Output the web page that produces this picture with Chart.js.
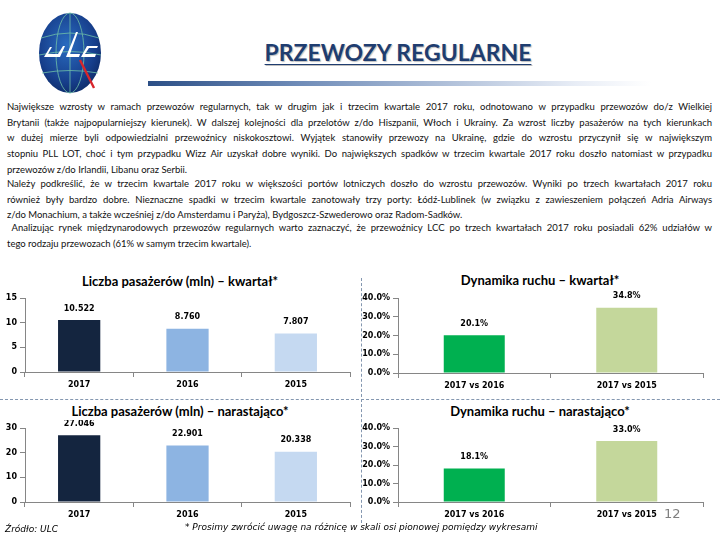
<!DOCTYPE html>
<html>
<head>
<meta charset="utf-8">
<script src="https://cdn.jsdelivr.net/npm/chart.js@4"></script>
<style>
  body { margin: 0; background: #fff; }
  #page { position: relative; width: 720px; height: 540px; overflow: hidden; font-family: Lato, "Open Sans", sans-serif; }
  .abs { position: absolute; }
  .title { left: 0; width: 796px; top: 38px; text-align: center; font: bold 23px Lato, sans-serif; color: #1f3d70;
           text-decoration: underline; text-decoration-thickness: 1px; text-underline-offset: 3px;
           text-shadow: 1px 1px 1px rgba(0,0,0,0.25); }
  .bar { left: 148px; top: 81px; width: 503px; height: 5px; background: linear-gradient(to right, #2c4f86, #6f8cb8 30%, #e8edf6 85%, #fff); }
  .para { left: 7px; width: 705px; font-size: 9.5px; color: #111; }
  .ln { height: 15.7px; line-height: 15.7px; white-space: nowrap; text-align: justify; text-align-last: justify; }
  .ln.end { text-align-last: left; }
  .ctitle { font: bold 13px Lato, sans-serif; color: #000; text-align: center; width: 360px; }
  .dash-h { left: 0; top: 399px; width: 720px; border-top: 1px dashed #8497b0; }
  .dash-v { left: 361px; top: 278px; height: 245px; border-left: 1px dashed #8497b0; }
  canvas { position: absolute; }
  .note { font: italic 9px "DejaVu Sans", sans-serif; color: #000; }
</style>
</head>
<body>
<div id="page">
  <svg class="abs" style="left:36px;top:10px" width="70" height="88" viewBox="0 0 70 88">
    <defs>
      <radialGradient id="g" cx="45%" cy="40%" r="65%">
        <stop offset="0" stop-color="#2a6cc0"/>
        <stop offset="0.7" stop-color="#173f8c"/>
        <stop offset="1" stop-color="#0d2a66"/>
      </radialGradient>
    </defs>
    <ellipse cx="34" cy="43" rx="31" ry="40" fill="url(#g)"/>
    <g fill="none" stroke="#6fc0a8" stroke-width="0.9" opacity="0.9">
      <ellipse cx="34" cy="43" rx="14" ry="40"/>
      <line x1="34" y1="3" x2="34" y2="83"/>
      <path d="M5 28 Q34 18 63 28"/>
      <path d="M3 45 Q34 38 65 45"/>
      <path d="M6 63 Q34 58 62 63"/>
    </g>
    <line x1="44" y1="50" x2="58" y2="78" stroke="#d8262c" stroke-width="2.4"/>
    <g fill="#fff">
      <path d="M8 47 L14 37 L16 37 L12 44 L22 44 L27 36 L29 36 L24 47 Z"/>
      <path d="M30 47 L40 22 L42 22 L34 44 L44 44 L43 47 Z"/>
      <path d="M45 47 L51 36 L62 36 L61 38 L53 38 L49 44 L60 44 L59 47 Z"/>
    </g>
  </svg>
  <div class="abs title">PRZEWOZY REGULARNE</div>
  <div class="abs bar"></div>

  <div class="abs para" style="top:99px">
    <div class="ln">Największe wzrosty w ramach przewozów regularnych, tak w drugim jak i trzecim kwartale 2017 roku, odnotowano w przypadku przewozów do/z Wielkiej</div>
    <div class="ln">Brytanii (także najpopularniejszy kierunek). W dalszej kolejności dla przelotów z/do Hiszpanii, Włoch i Ukrainy. Za wzrost liczby pasażerów na tych kierunkach</div>
    <div class="ln">w dużej mierze byli odpowiedzialni przewoźnicy niskokosztowi. Wyjątek stanowiły przewozy na Ukrainę, gdzie do wzrostu przyczynił się w największym</div>
    <div class="ln">stopniu PLL LOT, choć i tym przypadku Wizz Air uzyskał dobre wyniki. Do największych spadków w trzecim kwartale 2017 roku doszło natomiast w przypadku</div>
    <div class="ln end">przewozów z/do Irlandii, Libanu oraz Serbii.</div>
  </div>
  <div class="abs para" style="top:176px">
    <div class="ln">Należy podkreślić, że w trzecim kwartale 2017 roku w większości portów lotniczych doszło do wzrostu przewozów. Wyniki po trzech kwartałach 2017 roku</div>
    <div class="ln">również były bardzo dobre. Nieznaczne spadki w trzecim kwartale zanotowały trzy porty: Łódź-Lublinek (w związku z zawieszeniem połączeń Adria Airways</div>
    <div class="ln end">z/do Monachium, a także wcześniej z/do Amsterdamu i Paryża), Bydgoszcz-Szwederowo oraz Radom-Sadków.</div>
  </div>
  <div class="abs para" style="top:220px">
    <div class="ln">&nbsp;Analizując rynek międzynarodowych przewozów regularnych warto zaznaczyć, że przewoźnicy LCC po trzech kwartałach 2017 roku posiadali 62% udziałów w</div>
    <div class="ln end">tego rodzaju przewozach (61% w samym trzecim kwartale).</div>
  </div>

  <div class="abs dash-h"></div>
  <div class="abs dash-v"></div>

  <div class="abs ctitle" style="left:0;top:273px">Liczba pasażerów (mln) – kwartał*</div>
  <div class="abs ctitle" style="left:360px;top:272px">Dynamika ruchu – kwartał*</div>
  <div class="abs ctitle" style="left:0;top:403px">Liczba pasażerów (mln) – narastająco*</div>
  <div class="abs ctitle" style="left:360px;top:403px">Dynamika ruchu – narastająco*</div>

  <canvas id="c1" style="left:0;top:290px" width="360" height="105"></canvas>
  <canvas id="c2" style="left:362px;top:290px" width="358" height="105"></canvas>
  <canvas id="c3" style="left:0;top:420px" width="360" height="105"></canvas>
  <canvas id="c4" style="left:362px;top:420px" width="358" height="105"></canvas>

  <div class="abs" style="left:664px;top:506px;font:13px 'DejaVu Sans',sans-serif;color:#7f7f7f">12</div>
  <div class="abs note" style="left:5px;top:524px">Źródło: ULC</div>
  <div class="abs note" style="left:185px;top:522px">* Prosimy zwrócić uwagę na różnicę w skali osi pionowej pomiędzy wykresami</div>
</div>

<script>
// data
const years = ["2017", "2016", "2015"];
const paxQuarter = [10.522, 8.760, 7.807];
const paxCumulative = [27.046, 22.901, 20.338];
const paxColors = ["#14253f", "#8db4e2", "#c5d9f1"];

const compares = ["2017 vs 2016", "2017 vs 2015"];
const dynQuarter = [20.1, 34.8];
const dynCumulative = [18.1, 33.0];
const dynColors = ["#00b050", "#c4d79b"];

const paxTicksQuarter = [0, 5, 10, 15];
const paxTicksCumulative = [0, 10, 20, 30];
const dynTicks = [0, 10, 20, 30, 40];

Chart.defaults.animation = false;
Chart.defaults.font.family = "'DejaVu Sans', sans-serif";
Chart.defaults.font.size = 8;
Chart.defaults.font.weight = "bold";
Chart.defaults.color = "#000";

const valueLabels = {
  id: "valueLabels",
  afterDatasetsDraw(chart, args, opts) {
    const ctx = chart.ctx;
    const ds = chart.data.datasets[0];
    ctx.save();
    ctx.font = "bold 8px 'DejaVu Sans', sans-serif";
    ctx.fillStyle = "#000";
    ctx.textAlign = "center";
    ctx.textBaseline = "middle";
    chart.getDatasetMeta(0).data.forEach((bar, i) => {
      ctx.fillText(opts.fmt(ds.data[i]), bar.x, bar.y - 11.5);
    });
    ctx.restore();
  }
};

function makeChart(id, labels, values, colors, ticks, fmt, tickFmt, yWidth, pad, xHeight, barPct) {
  new Chart(document.getElementById(id), {
    type: "bar",
    data: {
      labels: labels,
      datasets: [{
        data: values,
        backgroundColor: colors,
        borderWidth: 0,
        categoryPercentage: 1,
        barPercentage: barPct
      }]
    },
    options: {
      responsive: false,
      layout: { padding: pad },
      plugins: {
        legend: { display: false },
        tooltip: { enabled: false },
        valueLabels: { fmt: fmt }
      },
      scales: {
        x: {
          grid: { offset: true, drawOnChartArea: false, tickLength: 5, color: "#868686" },
          border: { color: "#868686" },
          ticks: { padding: 3, maxRotation: 0 },
          afterFit: s => { s.height = xHeight; }
        },
        y: {
          min: 0,
          max: ticks[ticks.length - 1],
          grid: { drawOnChartArea: false, tickLength: 5, color: "#868686" },
          border: { color: "#868686" },
          afterBuildTicks: s => { s.ticks = ticks.map(v => ({ value: v })); },
          ticks: { padding: 3, callback: tickFmt },
          afterFit: s => { s.width = yWidth; }
        }
      }
    },
    plugins: [valueLabels]
  });
}

const fmt3 = v => v.toFixed(3);
const fmtPct = v => v.toFixed(1) + "%";

makeChart("c1", years, paxQuarter, paxColors, paxTicksQuarter, fmt3, v => v, 25,
  { top: 8, right: 10, left: 0, bottom: 0 }, 23, 0.39);
makeChart("c2", compares, dynQuarter, dynColors, dynTicks, fmtPct, v => v.toFixed(1) + "%", 36,
  { top: 8, right: 17, left: 0, bottom: 0 }, 22, 0.4);
makeChart("c3", years, paxCumulative, paxColors, paxTicksCumulative, fmt3, v => v, 25,
  { top: 8, right: 10, left: 0, bottom: 0 }, 23, 0.39);
makeChart("c4", compares, dynCumulative, dynColors, dynTicks, fmtPct, v => v.toFixed(1) + "%", 36,
  { top: 8, right: 17, left: 0, bottom: 0 }, 23, 0.4);
</script>
</body>
</html>
